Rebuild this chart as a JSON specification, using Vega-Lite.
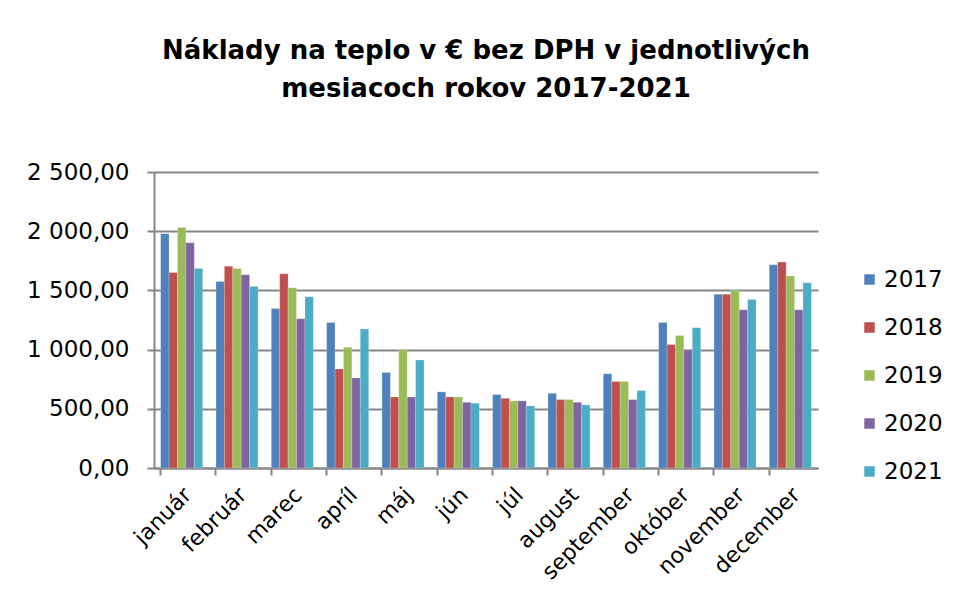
{
  "$schema": "https://vega.github.io/schema/vega-lite/v6.json",
  "width": 664,
  "height": 296,
  "autosize": "none",
  "padding": {"left": 154, "top": 172, "right": 135, "bottom": 142},
  "background": "white",
  "title": {
    "text": ["Náklady na teplo v € bez DPH v jednotlivých", "mesiacoch rokov 2017-2021"],
    "font": "DejaVu Sans",
    "fontSize": 26,
    "fontWeight": "bold",
    "color": "#000000",
    "anchor": "middle",
    "lineHeight": 38,
    "offset": 59
  },
  "data": {
    "values": [
      {"month": "január", "year": "2017", "value": 1979},
      {"month": "január", "year": "2018", "value": 1652},
      {"month": "január", "year": "2019", "value": 2032},
      {"month": "január", "year": "2020", "value": 1902},
      {"month": "január", "year": "2021", "value": 1686},
      {"month": "február", "year": "2017", "value": 1576},
      {"month": "február", "year": "2018", "value": 1705},
      {"month": "február", "year": "2019", "value": 1686},
      {"month": "február", "year": "2020", "value": 1632},
      {"month": "február", "year": "2021", "value": 1533},
      {"month": "marec", "year": "2017", "value": 1347},
      {"month": "marec", "year": "2018", "value": 1640},
      {"month": "marec", "year": "2019", "value": 1522},
      {"month": "marec", "year": "2020", "value": 1260},
      {"month": "marec", "year": "2021", "value": 1446},
      {"month": "apríl", "year": "2017", "value": 1229},
      {"month": "apríl", "year": "2018", "value": 837},
      {"month": "apríl", "year": "2019", "value": 1020},
      {"month": "apríl", "year": "2020", "value": 761},
      {"month": "apríl", "year": "2021", "value": 1175},
      {"month": "máj", "year": "2017", "value": 806},
      {"month": "máj", "year": "2018", "value": 600},
      {"month": "máj", "year": "2019", "value": 1000},
      {"month": "máj", "year": "2020", "value": 600},
      {"month": "máj", "year": "2021", "value": 913},
      {"month": "jún", "year": "2017", "value": 643},
      {"month": "jún", "year": "2018", "value": 600},
      {"month": "jún", "year": "2019", "value": 600},
      {"month": "jún", "year": "2020", "value": 555},
      {"month": "jún", "year": "2021", "value": 547},
      {"month": "júl", "year": "2017", "value": 620},
      {"month": "júl", "year": "2018", "value": 589},
      {"month": "júl", "year": "2019", "value": 567},
      {"month": "júl", "year": "2020", "value": 567},
      {"month": "júl", "year": "2021", "value": 524},
      {"month": "august", "year": "2017", "value": 631},
      {"month": "august", "year": "2018", "value": 578},
      {"month": "august", "year": "2019", "value": 578},
      {"month": "august", "year": "2020", "value": 555},
      {"month": "august", "year": "2021", "value": 533},
      {"month": "september", "year": "2017", "value": 795},
      {"month": "september", "year": "2018", "value": 730},
      {"month": "september", "year": "2019", "value": 730},
      {"month": "september", "year": "2020", "value": 578},
      {"month": "september", "year": "2021", "value": 654},
      {"month": "október", "year": "2017", "value": 1229},
      {"month": "október", "year": "2018", "value": 1043},
      {"month": "október", "year": "2019", "value": 1119},
      {"month": "október", "year": "2020", "value": 998},
      {"month": "október", "year": "2021", "value": 1184},
      {"month": "november", "year": "2017", "value": 1468},
      {"month": "november", "year": "2018", "value": 1468},
      {"month": "november", "year": "2019", "value": 1499},
      {"month": "november", "year": "2020", "value": 1336},
      {"month": "november", "year": "2021", "value": 1423},
      {"month": "december", "year": "2017", "value": 1716},
      {"month": "december", "year": "2018", "value": 1739},
      {"month": "december", "year": "2019", "value": 1621},
      {"month": "december", "year": "2020", "value": 1336},
      {"month": "december", "year": "2021", "value": 1564}
    ]
  },
  "mark": {"type": "bar", "stroke": "#ffffff", "strokeOpacity": 0.35, "strokeWidth": 0.6},
  "encoding": {
    "x": {
      "field": "month",
      "type": "nominal",
      "sort": null,
      "title": null,
      "scale": {"paddingInner": 0.24, "paddingOuter": 0.12},
      "axis": {
        "bandPosition": 0,
        "labelAngle": -45,
        "labelAlign": "right",
        "labelBaseline": "middle",
        "labelFont": "DejaVu Sans",
        "labelFontSize": 22,
        "labelColor": "#000000",
        "labelPadding": 16,
        "labelOffset": 6,
        "domainColor": "#868686",
        "domainWidth": 2,
        "tickColor": "#868686",
        "tickWidth": 2,
        "tickSize": 7,
        "grid": false
      }
    },
    "xOffset": {"field": "year", "type": "nominal", "scale": {"paddingInner": 0, "paddingOuter": 0}},
    "y": {
      "field": "value",
      "type": "quantitative",
      "title": null,
      "scale": {"domain": [0, 2500], "nice": false},
      "axis": {
        "values": [0, 500, 1000, 1500, 2000, 2500],
        "labelExpr": "replace(replace(format(datum.value, ',.2f'), ',', ' '), '.', ',')",
        "labelFont": "DejaVu Sans",
        "labelFontSize": 23,
        "labelColor": "#000000",
        "labelPadding": 18,
        "domainColor": "#868686",
        "domainWidth": 2,
        "tickColor": "#868686",
        "tickWidth": 2,
        "tickSize": 7,
        "grid": true,
        "gridColor": "#868686",
        "gridWidth": 2
      }
    },
    "color": {
      "field": "year",
      "type": "nominal",
      "title": null,
      "scale": {
        "domain": ["2017", "2018", "2019", "2020", "2021"],
        "range": ["#4F81BD", "#C0504D", "#9BBB59", "#8064A2", "#4BACC6"]
      },
      "legend": {
        "orient": "none",
        "legendX": 704,
        "legendY": 96,
        "symbolType": "square",
        "symbolSize": 110,
        "symbolStrokeWidth": 0,
        "labelFont": "DejaVu Sans",
        "labelFontSize": 23,
        "labelColor": "#000000",
        "labelOffset": 3,
        "rowPadding": 24
      }
    }
  },
  "config": {
    "view": {"stroke": null}
  }
}
